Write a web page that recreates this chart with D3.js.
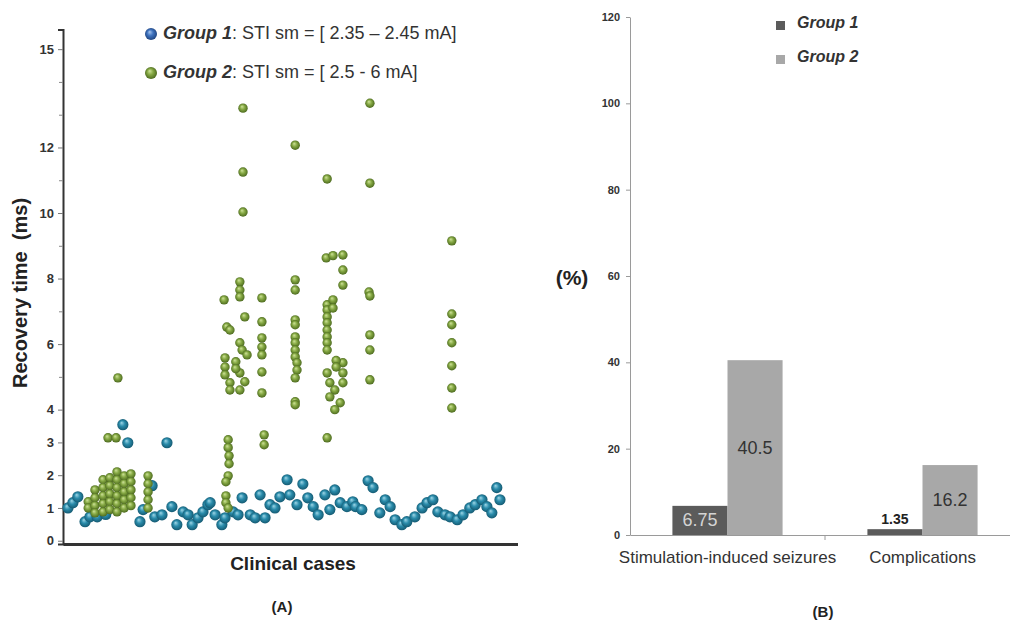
<!DOCTYPE html>
<html>
<head>
<meta charset="utf-8">
<script src="https://cdn.jsdelivr.net/npm/d3@7"></script>
<style>
  body { margin: 0; background: #fff; }
  svg { display: block; }
  text { font-family: "Liberation Sans", Arial, sans-serif; }
</style>
</head>
<body>
<svg id="chart" width="1010" height="624"></svg>
<script>
// ---- panel A data: [clinical case, recovery time (ms)] ----
const group1Points = [
  [1.1,1.0],[2.2,1.16],[3.3,1.34],[4.9,0.58],[6.0,0.73],[7.6,0.73],[9.5,0.8],
  [13.3,3.54],[14.4,2.99],[23.1,2.99],
  [17.1,0.58],[17.8,0.95],[19.8,1.68],[20.4,0.73],[22.0,0.79],[24.2,1.04],[25.3,0.49],
  [26.7,0.88],[27.8,0.79],[28.7,0.49],[30.0,0.7],[31.1,0.88],[32.2,1.1],[32.7,1.16],
  [33.8,0.79],[35.3,0.49],[36.0,0.7],[37.8,0.88],[38.9,0.79],[39.8,1.31],[41.6,0.79],
  [42.7,0.7],[43.8,1.4],[44.9,0.7],[46.0,1.1],[47.1,1.0],[48.2,1.34],[49.8,1.86],
  [50.4,1.4],[52.0,1.1],[53.3,1.73],[54.4,1.31],[55.6,1.04],[56.7,0.79],[58.2,1.4],
  [59.3,0.95],[60.4,1.55],[61.6,1.16],[63.1,1.04],[64.4,1.19],[65.0,1.04],[66.4,0.95],
  [67.8,1.83],[68.9,1.62],[70.4,0.85],[71.6,1.25],[72.7,1.04],[73.8,0.64],[75.3,0.49],
  [76.4,0.58],[78.2,0.73],[79.8,1.0],[80.9,1.16],[82.2,1.25],[83.3,0.88],[84.9,0.79],
  [86.0,0.73],[87.6,0.64],[88.9,0.79],[90.4,1.0],[91.6,1.1],[93.1,1.25],[94.2,1.04],
  [95.3,0.85],[96.4,1.62],[97.1,1.25]
];
const group2Points = [
  [12.2,4.97],[10.0,3.14],[11.8,3.14],
  [5.6,1.19],[5.6,1.0],
  [7.1,1.55],[7.1,1.31],[7.1,1.07],[7.1,0.85],
  [8.9,1.86],[8.9,1.62],[8.9,1.37],[8.9,1.13],[8.9,0.88],
  [10.4,1.92],[10.4,1.68],[10.4,1.43],[10.4,1.19],[10.4,0.95],
  [12.0,2.1],[12.0,1.86],[12.0,1.62],[12.0,1.37],[12.0,1.13],[12.0,0.88],
  [13.6,1.98],[13.6,1.74],[13.6,1.49],[13.6,1.25],[13.6,1.0],
  [15.1,2.04],[15.1,1.8],[15.1,1.55],[15.1,1.31],[15.1,1.07],
  [18.9,1.98],[18.9,1.74],[18.9,1.49],[18.9,1.25],[18.9,1.0],
  [36.7,3.08],[36.7,2.84],[36.9,2.59],[36.9,2.35],[36.7,1.98],[36.2,1.8],
  [36.2,1.37],[36.2,1.16],[36.7,1.0],
  [40.0,13.2],[40.0,11.25],[40.0,10.03],
  [35.8,7.35],[39.3,7.9],[39.3,7.65],[39.3,7.44],[40.4,6.83],
  [36.4,6.52],[37.1,6.43],[39.3,6.04],[39.8,5.82],[40.9,5.67],
  [36.0,5.58],[36.0,5.3],[36.0,5.06],[37.1,4.82],[39.3,5.12],[40.4,4.85],
  [39.3,4.6],[37.1,4.6],[38.4,5.46],[38.4,5.25],
  [44.2,7.41],[44.2,6.68],[44.2,6.19],[44.2,5.91],[44.2,5.67],[44.2,5.15],[44.2,4.51],
  [44.7,3.23],[44.7,2.93],
  [51.6,12.07],[51.6,7.96],[51.6,7.65],[51.6,6.74],[51.6,6.59],[51.6,6.22],[51.6,6.04],
  [51.6,5.82],[51.6,5.61],[52.0,5.43],[52.0,5.21],[51.6,4.97],[51.6,4.24],[51.6,4.15],
  [58.7,11.04],[58.5,8.63],[60.0,8.7],[62.2,8.72],[62.2,8.26],[62.2,7.8],
  [58.7,7.2],[58.7,7.04],[58.7,6.83],[58.7,6.65],[58.7,6.43],[58.7,6.22],[58.7,6.04],
  [58.7,5.82],[60.0,7.35],[60.0,7.1],
  [58.7,5.12],[59.3,4.82],[60.4,4.6],[59.3,4.39],[61.6,4.21],[62.2,5.43],[62.2,5.12],
  [62.2,4.82],[60.7,5.5],[60.7,5.3],[60.4,4.0],[58.7,3.14],
  [68.2,13.35],[68.2,10.91],[68.0,7.59],[68.2,7.47],[68.2,6.28],[68.2,5.82],[68.2,4.91],
  [86.4,9.15],[86.4,6.92],[86.4,6.59],[86.4,6.04],[86.4,5.34],[86.4,4.66],[86.4,4.05]
];
const timeTicks = [0, 1, 2, 3, 4, 6, 8, 10, 12, 15];
const timeMinorTicks = [5, 7, 9, 11, 13, 14];

// ---- panel B data ----
const categories = ["Stimulation-induced seizures", "Complications"];
const groups = ["Group 1", "Group 2"];
const group1Pct = [6.75, 1.35];
const group2Pct = [40.5, 16.2];
const pctTicks = [0, 20, 40, 60, 80, 100, 120];

const svg = d3.select("#chart");
const defs = svg.append("defs");

const sphere = (id, light, mid, dark) => {
  const g = defs.append("radialGradient").attr("id", id)
    .attr("cx", "0.5").attr("cy", "0.5").attr("r", "0.55")
    .attr("fx", "0.38").attr("fy", "0.32");
  g.append("stop").attr("offset", "0%").attr("stop-color", light);
  g.append("stop").attr("offset", "45%").attr("stop-color", mid);
  g.append("stop").attr("offset", "100%").attr("stop-color", dark);
};
sphere("blueBall", "#9fd6e6", "#2a8cab", "#12536a");
sphere("greenBall", "#cfe39a", "#86a944", "#45621a");
sphere("blueLegend", "#a9c6ee", "#3f73bf", "#1d3f78");

// ================= Panel A =================
const xA = d3.scaleLinear().domain([0, 101]).range([63, 517.5]);
const yA = d3.scaleLinear().domain([-0.1, 15.6]).range([544, 29.5]);

const gA = svg.append("g");

// y axis with labelled and minor ticks
gA.append("g")
  .attr("transform", `translate(${xA(0)},0)`)
  .call(d3.axisLeft(yA).tickValues(timeTicks).tickSize(5).tickFormat(d3.format("d")))
  .call(g => g.select(".domain").attr("stroke", "#333").attr("stroke-width", 2))
  .call(g => g.selectAll(".tick line").attr("stroke", "#777"))
  .call(g => g.selectAll(".tick text").attr("font-family", "Liberation Serif, serif")
    .attr("font-weight", "bold").attr("font-size", 13).attr("fill", "#333").attr("x", -9));
gA.append("g")
  .attr("transform", `translate(${xA(0)},0)`)
  .call(d3.axisLeft(yA).tickValues(timeMinorTicks).tickSize(4).tickFormat(""))
  .call(g => g.select(".domain").remove())
  .call(g => g.selectAll(".tick line").attr("stroke", "#888"));

// x axis (no ticks)
gA.append("g")
  .attr("transform", `translate(0,${yA(-0.1)})`)
  .call(d3.axisBottom(xA).tickValues([]).tickSizeOuter(0))
  .call(g => g.select(".domain").attr("stroke", "#333").attr("stroke-width", 3));

gA.append("g").selectAll("circle").data(group1Points).join("circle")
  .attr("cx", d => xA(d[0])).attr("cy", d => yA(d[1]))
  .attr("r", 5.6).attr("fill", "url(#blueBall)");
gA.append("g").selectAll("circle").data(group2Points).join("circle")
  .attr("cx", d => xA(d[0])).attr("cy", d => yA(d[1]))
  .attr("r", 4.7).attr("fill", "url(#greenBall)");

gA.append("text")
  .attr("transform", "translate(27,293) rotate(-90)")
  .attr("text-anchor", "middle").attr("font-size", 20).attr("font-weight", "bold")
  .attr("fill", "#222").attr("xml:space", "preserve")
  .text("Recovery time  (ms)");
gA.append("text").attr("x", 293).attr("y", 570).attr("text-anchor", "middle")
  .attr("font-size", 19).attr("font-weight", "bold").attr("fill", "#222")
  .text("Clinical cases");
gA.append("text").attr("x", 282).attr("y", 612).attr("text-anchor", "middle")
  .attr("font-size", 15).attr("font-weight", "bold").attr("fill", "#222")
  .text("(A)");

// legend A
const legA = [
  {grad: "blueLegend", name: "Group 1", rest: ": STI sm = [ 2.35 \u2013 2.45 mA]", y: 33},
  {grad: "greenBall", name: "Group 2", rest: ": STI sm = [ 2.5 - 6 mA]", y: 72}
];
legA.forEach(l => {
  gA.append("circle").attr("cx", 151).attr("cy", l.y + 1).attr("r", 6)
    .attr("fill", `url(#${l.grad})`);
  const t = gA.append("text").attr("x", 163).attr("y", l.y + 6)
    .attr("font-size", 18).attr("fill", "#333");
  t.append("tspan").attr("font-weight", "bold").attr("font-style", "italic").text(l.name);
  t.append("tspan").text(l.rest);
});

// ================= Panel B =================
const x0 = d3.scaleBand().domain(categories).range([630, 1020]).paddingInner(0).paddingOuter(0);
const x1 = d3.scaleBand().domain(groups).range([0, x0.bandwidth()]).paddingInner(0).paddingOuter(0.77);
const yB = d3.scaleLinear().domain([0, 120]).range([535, 17]);
const barColor = d3.scaleOrdinal().domain(groups).range(["#5b5b5b", "#a8a8a8"]);

const gB = svg.append("g");

gB.append("g")
  .attr("transform", "translate(630,0)")
  .call(d3.axisLeft(yB).tickValues(pctTicks).tickSize(4).tickSizeOuter(0))
  .call(g => g.select(".domain").attr("stroke", "#9a9a9a"))
  .call(g => g.selectAll(".tick line").attr("stroke", "#9a9a9a"))
  .call(g => g.selectAll(".tick text").attr("font-family", "Liberation Sans Narrow, Arial Narrow, sans-serif")
    .attr("font-weight", "bold").attr("font-size", 11).attr("fill", "#333").attr("x", -10));

const barData = categories.flatMap((c, i) => [
  {cat: c, grp: groups[0], v: group1Pct[i]},
  {cat: c, grp: groups[1], v: group2Pct[i]}
]);

gB.append("g").selectAll("rect").data(barData).join("rect")
  .attr("x", d => x0(d.cat) + x1(d.grp))
  .attr("y", d => yB(d.v))
  .attr("width", x1.bandwidth())
  .attr("height", d => yB(0) - yB(d.v))
  .attr("fill", d => barColor(d.grp));

gB.append("g").selectAll("text").data(barData).join("text")
  .attr("x", d => x0(d.cat) + x1(d.grp) + x1.bandwidth() / 2)
  .attr("y", d => (yB(0) - yB(d.v)) < 20 ? yB(d.v) - 5 : (yB(d.v) + yB(0)) / 2 + 6)
  .attr("text-anchor", "middle")
  .attr("font-family", "Liberation Sans Narrow, Arial Narrow, sans-serif")
  .attr("font-size", d => (yB(0) - yB(d.v)) < 20 ? 14 : 18)
  .attr("font-weight", d => (yB(0) - yB(d.v)) < 20 ? "bold" : "normal")
  .attr("fill", d => (yB(0) - yB(d.v)) < 20 ? "#222" : (d.grp === groups[0] ? "#d4d4d4" : "#333"))
  .text(d => d.v);

gB.append("g")
  .attr("transform", `translate(0,${yB(0)})`)
  .call(d3.axisBottom(x0).tickSize(0).tickSizeOuter(0))
  .call(g => g.select(".domain").attr("stroke", "#9a9a9a"))
  .call(g => g.selectAll(".tick text").attr("font-size", 17).attr("fill", "#333").attr("dy", "1.45em"));
// category separator tick
gB.append("line")
  .attr("x1", x0(categories[1])).attr("x2", x0(categories[1]))
  .attr("y1", yB(0)).attr("y2", yB(0) + 5).attr("stroke", "#9a9a9a");

gB.append("text").attr("x", 572).attr("y", 285).attr("text-anchor", "middle")
  .attr("font-size", 21).attr("font-weight", "bold").attr("fill", "#222").text("(%)");
gB.append("text").attr("x", 823).attr("y", 617).attr("text-anchor", "middle")
  .attr("font-size", 15).attr("font-weight", "bold").attr("fill", "#222").text("(B)");

// legend B
groups.forEach((gname, i) => {
  const ly = 26 + i * 34;
  gB.append("rect").attr("x", 776).attr("y", ly - 5).attr("width", 9).attr("height", 9)
    .attr("fill", barColor(gname));
  gB.append("text").attr("x", 797).attr("y", ly + 2)
    .attr("font-size", 16).attr("font-weight", "bold").attr("font-style", "italic")
    .attr("fill", "#333").text(gname);
});
</script>
</body>
</html>
